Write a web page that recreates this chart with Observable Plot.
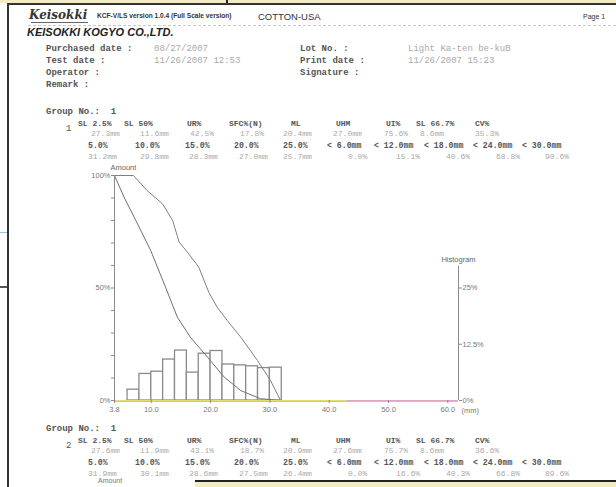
<!DOCTYPE html>
<html><head><meta charset="utf-8">
<script src="https://cdn.jsdelivr.net/npm/d3@7"></script>
<script src="https://cdn.jsdelivr.net/npm/@observablehq/plot@0.6"></script>
<style>
html,body{margin:0;padding:0;background:#fff;}
#page{position:relative;width:616px;height:487px;overflow:hidden;background:#fff;font-family:"Liberation Sans",Arial,sans-serif;}
.t{position:absolute;white-space:pre;line-height:1;}
.mono{font-family:"Liberation Mono","Courier New",monospace;}
#chart{position:absolute;left:0;top:160px;}
</style></head>
<body><div id="page"><div id="chart"></div></div>
<script>
// ---------- data ----------
const docTitle = "COTTON-USA";
const versionText = "KCF-V/LS version 1.0.4 (Full Scale version)";
const companyName = "KEISOKKI KOGYO CO.,LTD.";
const logoText = "Keisokki";
const infoLeftLabels = ["Purchased date :", "Test date :", "Operator :", "Remark :"];
const infoLeftValues = ["08/27/2007", "11/26/2007 12:53", "", ""];
const infoRightLabels = ["Lot No. :", "Print date :", "Signature :"];
const infoRightValues = ["Light Ka-ten be-kuB", "11/26/2007 15:23", ""];
const statNamesA = ["SL 2.5%", "SL 50%", "UR%", "SFC%(N)", "ML", "UHM", "UI%", "SL 66.7%", "CV%"];
const statNamesB = ["5.0%", "10.0%", "15.0%", "20.0%", "25.0%", "< 6.0mm", "< 12.0mm", "< 18.0mm", "< 24.0mm", "< 30.0mm"];
const group1A = ["27.3mm", "11.6mm", "42.5%", "17.8%", "20.4mm", "27.0mm", "75.6%", "8.6mm", "35.3%"];
const group1B = ["31.2mm", "29.8mm", "28.3mm", "27.0mm", "25.7mm", "0.0%", "15.1%", "40.6%", "68.8%", "90.6%"];
const group2A = ["27.6mm", "11.9mm", "43.1%", "18.7%", "20.9mm", "27.6mm", "75.7%", "8.6mm", "36.6%"];
const group2B = ["31.9mm", "30.1mm", "28.6mm", "27.5mm", "26.4mm", "0.0%", "16.6%", "40.3%", "66.8%", "89.6%"];

// chart data (length in mm, amount in %)
const binStart = [6, 8, 10, 12, 14, 16, 18, 20, 22, 24, 26, 28, 30];
const binWidth = 2;
const histPct = [2.4, 5.9, 6.4, 9.1, 11.1, 6.2, 10.4, 11.0, 8.0, 7.8, 7.6, 7.2, 7.3];
const fibroLen = [3.8, 5.4, 7.4, 9.9, 12.4, 14.4, 16.6, 19.5, 22.3, 25.1, 28.4, 31.8];
const fibroAmt = [100, 90.4, 80.0, 66.7, 50.4, 37.0, 28.1, 19.2, 10.4, 4.4, 0.8, 0];
const cumLen = [3.8, 7.0, 9.3, 11.9, 13.6, 14.7, 16.1, 18.0, 19.7, 21.1, 22.8, 25.1, 27.9, 30.1, 31.8];
const cumAmt = [100, 100, 93.3, 87.4, 80.0, 70.4, 65.9, 59.3, 48.1, 41.5, 35.6, 28.1, 17.8, 8.9, 0];
const xTicks = [3.8, 10, 20, 30, 40, 50, 60];
const xMin = 3.8, xMax = 61.8;
const amountTicks = [0, 10, 20, 30, 40, 50, 60, 70, 80, 90, 100];
const amountLabels = [0, 50, 100];
const histTicks = [0, 12.5, 25];
const histAxisTop = 29.8;
const histScale = 2; // histogram % drawn on the amount axis (25% ↔ 50%)

// ---------- document text ----------
const page = document.getElementById("page");
function put(txt, x, y, size, opts = {}) {
  const d = document.createElement("div");
  d.className = "t" + (opts.mono ? " mono" : "");
  d.textContent = txt;
  d.style.left = x + "px";
  d.style.top = (y - size * 0.55) + "px";
  d.style.fontSize = size + "px";
  d.style.color = opts.color || "#444";
  if (opts.bold) d.style.fontWeight = "bold";
  if (opts.italic) d.style.fontStyle = "italic";
  if (opts.family) d.style.fontFamily = opts.family;
  page.appendChild(d);
  return d;
}
function box(x, y, w, h, bg) {
  const d = document.createElement("div");
  d.style.cssText = `position:absolute;left:${x}px;top:${y}px;width:${w}px;height:${h}px;background:${bg};`;
  page.appendChild(d);
  return d;
}
// frame / scan remnants
box(0, 0, 616, 3, "#f3ecc0");
box(226, 0, 2, 4, "#222");
box(7, 3, 609, 2, "#333");
box(7, 3, 2, 484, "#333");
box(0, 232, 7, 1, "#9cc4dc");
box(0, 286, 7, 2, "#555");
box(195, 480, 421, 2, "#222");
box(195, 482, 421, 5, "#f3ecc0");
const dash = document.createElement("div");
dash.style.cssText = "position:absolute;left:28px;top:25px;width:588px;height:0;border-top:1px dashed #c8c8c8;";
page.appendChild(dash);

put(logoText, 29, 16, 12, {italic: true, bold: true, family: "'DejaVu Serif','Liberation Serif',serif", color: "#333"});
box(31, 22, 57, 1, "#666");
put(versionText, 97, 17, 6.6, {bold: true, color: "#333"});
put(docTitle, 258, 17, 9.5, {color: "#333"});
put("Page 1", 583, 17, 7, {color: "#333"});
put(companyName, 27, 33, 11, {bold: true, italic: true, color: "#222"});

const infoY = [50, 62, 74, 86];
infoLeftLabels.forEach((s, i) => {
  put(s, 46, infoY[i], 9, {mono: true, bold: true, color: "#555"});
  if (infoLeftValues[i]) put(infoLeftValues[i], 154, infoY[i], 9, {mono: true, color: "#aaa"});
});
infoRightLabels.forEach((s, i) => {
  put(s, 300, infoY[i], 9, {mono: true, bold: true, color: "#555"});
  if (infoRightValues[i]) put(infoRightValues[i], 408, infoY[i], 9, {mono: true, color: "#aaa"});
});

const colA = [78, 124, 187, 229, 291, 336, 386, 416, 475];
const colAv = [91, 140, 190, 240, 283, 333, 384, 420, 475];
const colB = [88, 135, 185, 234, 283, 327, 374, 424, 473, 522];
const colBv = [88, 140, 189, 239, 283, 348, 396, 446, 496, 545];
function group(idx, y0, valsA, valsB) {
  put("Group No.:  1", 46, y0, 9, {mono: true, bold: true, color: "#555"});
  put(String(idx), 66, y0 + 17, 9, {mono: true, color: "#555"});
  statNamesA.forEach((s, i) => put(s, colA[i], y0 + 11, 8, {mono: true, bold: true, color: "#555"}));
  valsA.forEach((s, i) => put(s, colAv[i], y0 + 21, 8, {mono: true, color: "#aaa"}));
  statNamesB.forEach((s, i) => put(s, colB[i], y0 + 34, 8.2, {mono: true, bold: true, color: "#555"}));
  valsB.forEach((s, i) => put(s, colBv[i], y0 + 44, 8, {mono: true, color: "#aaa"}));
}
group(1, 113, group1A, group1B);
group(2, 430, group2A, group2B);
put("Amount", 98, 481, 7, {color: "#777"});

// ---------- chart ----------
const bins = binStart.map((b, i) => ({x1: b, x2: b + binWidth, pct: histPct[i]}));
const fibro = fibroLen.map((x, i) => ({x, y: fibroAmt[i]}));
const cum = cumLen.map((x, i) => ({x, y: cumAmt[i]}));
const axisColor = "#8c8c8c";

const chart = Plot.plot({
  width: 616, height: 265,
  marginLeft: 114, marginRight: 158, marginTop: 15, marginBottom: 25,
  x: {domain: [xMin, xMax]},
  y: {domain: [0, 100]},
  style: {fontFamily: "'Liberation Sans', Arial, sans-serif", fontSize: "7.5px", color: "#777", background: "transparent", overflow: "visible"},
  marks: [
    Plot.rect(bins, {x1: "x1", x2: "x2", y1: 0, y2: d => d.pct * histScale, fill: "white", stroke: "#8a8a8a", strokeWidth: 1.3}),
    Plot.line(cum, {x: "x", y: "y", stroke: "#808080", strokeWidth: 1}),
    Plot.line(fibro, {x: "x", y: "y", stroke: "#707070", strokeWidth: 1}),
    Plot.ruleY([0], {x1: xMin, x2: xMax, stroke: "#8fd6e0", strokeWidth: 1.2, dy: 1}),
    Plot.ruleY([0], {x1: xMin, x2: 43, stroke: "#e6dc6a", strokeWidth: 1.2}),
    Plot.ruleY([0], {x1: 43, x2: xMax, stroke: "#e3a6c4", strokeWidth: 1.2}),
    Plot.ruleX([xMin], {y1: 0, y2: 100, stroke: axisColor}),
    Plot.ruleX([xMax], {y1: 0, y2: histAxisTop * histScale, stroke: axisColor}),
    Plot.axisY({ticks: amountTicks, tickFormat: d => amountLabels.includes(d) ? d + "%" : "", tickSize: 3, tickPadding: 1, anchor: "left", stroke: axisColor, label: null}),
    Plot.axisY({ticks: histTicks.map(d => d * histScale), tickFormat: d => (d / histScale) + "%", tickSize: 3, tickPadding: 1, anchor: "right", stroke: axisColor, label: null}),
    Plot.axisX({ticks: xTicks, tickFormat: d => d.toFixed(1), tickSize: 3, tickPadding: 3, stroke: axisColor, label: null}),
    Plot.text(["Amount"], {frameAnchor: "top-left", dx: -4, dy: -11, text: d => d, fill: "#666"}),
    Plot.text(["Histogram"], {x: xMax, y: histAxisTop * histScale, dy: -7, text: d => d, fill: "#666"}),
    Plot.text(["(mm)"], {frameAnchor: "bottom-right", textAnchor: "start", dx: 3, dy: 12, text: d => d, fill: "#777"})
  ]
});
document.getElementById("chart").appendChild(chart);
</script></body></html>
